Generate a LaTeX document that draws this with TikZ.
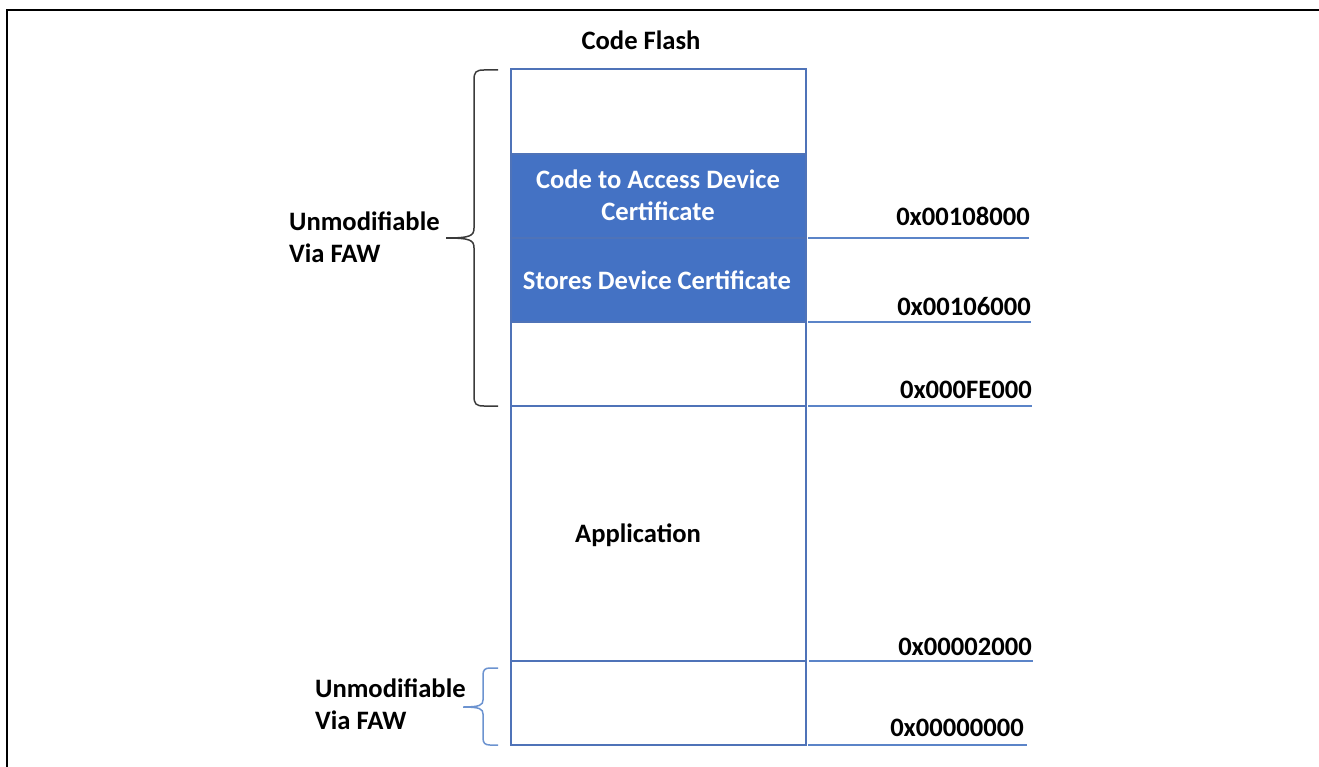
\documentclass[tikz,border=0pt]{standalone}
\usepackage{fontspec}
\setmainfont{Carlito}
\definecolor{rowblue}{HTML}{4472C4}
\definecolor{edgeblue}{HTML}{4F73B8}
\definecolor{linkblue}{HTML}{5B84C8}
\definecolor{bracegray}{HTML}{3A3A3A}
\definecolor{braceblue}{HTML}{6C93D0}
\begin{document}
\begin{tikzpicture}[x=1pt,y=-1pt,
  lbl/.style={font=\fontsize{26.6}{31}\selectfont\bfseries, text=black, inner sep=0pt},
  wlbl/.style={font=\fontsize{26.6}{31}\selectfont\bfseries, text=white, inner sep=0pt, align=center},
  addr/.style={font=\fontsize{26.6}{31}\selectfont\bfseries, text=black, inner sep=0pt, anchor=east},
  cell/.style={draw=edgeblue, line width=1.4pt},
  bluecell/.style={cell, fill=rowblue},
  addrline/.style={draw=linkblue, line width=1.4pt},
  frame/.style={draw=black, line width=2.6pt}
]
\useasboundingbox (0,0) rectangle (1319,767);
% outer frame (top and left)
\draw[frame] (7,767) -- (7,10) -- (1319,10);
% memory cells
\draw[cell] (511,69) rectangle (806,154);
\draw[bluecell] (511,154) rectangle (806,238);
\draw[bluecell] (511,238) rectangle (806,322);
\draw[cell] (511,322) rectangle (806,406);
\draw[cell] (511,406) rectangle (806,661);
\draw[cell] (511,661) rectangle (806,745);
% texts
\node[lbl] (title) at (641,40) {Code Flash};
\node[wlbl] (code) at (658,195) {Code to Access Device\\[1pt]Certificate};
\node[wlbl] (store) at (657,280) {Stores Device Certificate};
\node[lbl] (app) at (638,535) {Application};
% address lines
\coordinate (a1s) at (808,238); \coordinate (a1e) at (1029,238);
\coordinate (a2s) at (808,322); \coordinate (a2e) at (1031,322);
\coordinate (a3s) at (808,406); \coordinate (a3e) at (1032,406);
\coordinate (a4s) at (809,661); \coordinate (a4e) at (1033,661);
\coordinate (a5s) at (808,745); \coordinate (a5e) at (1027,745);
\draw[addrline] (a1s) -- (a1e);
\draw[addrline] (a2s) -- (a2e);
\draw[addrline] (a3s) -- (a3e);
\draw[addrline] (a4s) -- (a4e);
\draw[addrline] (a5s) -- (a5e);
\node[addr] (l1) at (1030,216) {0x00108000};
\node[addr] (l2) at (1031,307) {0x00106000};
\node[addr] (l3) at (1032,390) {0x000FE000};
\node[addr] (l4) at (1032,647) {0x00002000};
\node[addr] (l5) at (1024,728) {0x00000000};
% top brace
\draw[bracegray, line width=1.5pt]
  (498,70) -- (484,70) .. controls (476,70) and (474,72) .. (474,80)
  -- (474,228) .. controls (474,236) and (470,238) .. (446,238)
  .. controls (470,238) and (474,240) .. (474,248)
  -- (474,396) .. controls (474,404) and (476,406) .. (484,406) -- (498,406);
\node[lbl, anchor=west, align=left] (un1) at (289,237) {Unmodifiable\\[1pt]Via FAW};
% bottom brace
\draw[braceblue, line width=1.5pt]
  (498,668) -- (490,668) .. controls (485,668) and (483,670) .. (483,675)
  -- (483,700) .. controls (483,705) and (480,707) .. (463,707)
  .. controls (480,707) and (483,709) .. (483,714)
  -- (483,738) .. controls (483,743) and (485,745) .. (490,745) -- (498,745);
\node[lbl, anchor=west, align=left] (un2) at (315,704) {Unmodifiable\\[1pt]Via FAW};
\end{tikzpicture}
\end{document}
